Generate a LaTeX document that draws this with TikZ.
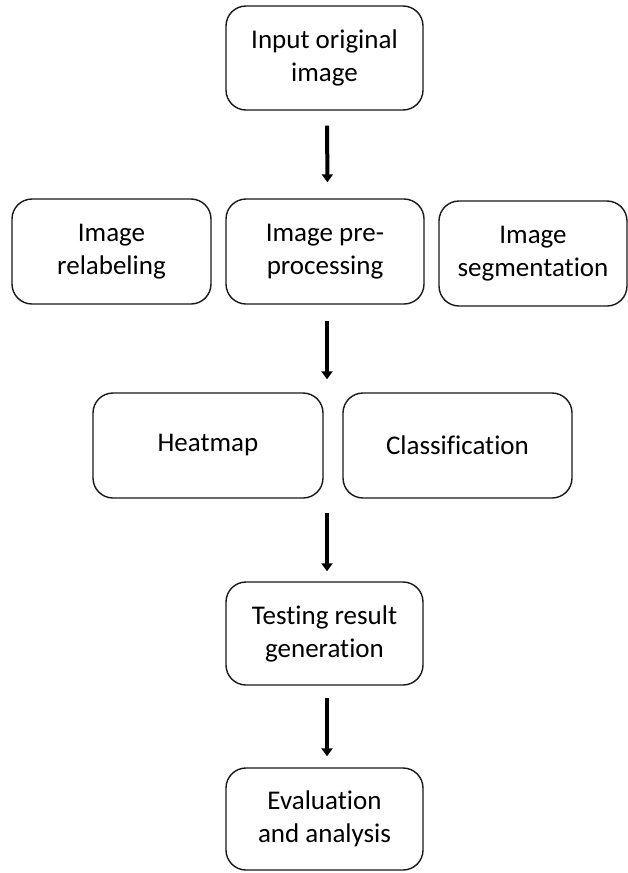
\documentclass[tikz,border=0pt]{standalone}
\usepackage{fontspec}
\setmainfont[Ligatures={NoCommon,NoRequired,NoContextual}]{Carlito}
\usetikzlibrary{arrows.meta}
\begin{document}
\begin{tikzpicture}[x=1pt,y=-1pt,
  box/.style={draw=black!90, line width=1.4pt, rounded corners=20pt, align=center,
    font=\fontsize{27}{33}\selectfont, inner sep=0pt},
  arr/.style={line width=4pt, -{Triangle[width=11pt,length=8pt]}}]
\useasboundingbox (0,0) rectangle (628,873);
\node[box, minimum width=197pt, minimum height=104pt] (in) at (324.5,58) {Input original\\image};
\node[box, minimum width=199pt, minimum height=105pt] (rel) at (111.5,251.5) {Image\\relabeling};
\node[box, minimum width=198pt, minimum height=105pt] (pre) at (325,251.5) {Image pre-\\processing};
\node[box, minimum width=188pt, minimum height=105pt] (seg) at (533,253.5) {Image\\segmentation};
\node[box, minimum width=230pt, minimum height=105pt] (hm) at (208,445.5) {Heatmap};
\node[box, minimum width=229pt, minimum height=105pt] (cl) at (457.5,445.5) {Classification};
\node[box, minimum width=197pt, minimum height=103pt] (te) at (324.5,633.5) {Testing result\\generation};
\node[box, minimum width=197pt, minimum height=102pt] (ev) at (324.5,819) {Evaluation\\and analysis};
\draw[arr, shorten <=15pt, shorten >=16pt] ([xshift=2.5pt]in.south) -- ([xshift=2.5pt]pre.north);
\draw[arr, shorten <=16pt, shorten >=13pt] ([xshift=2pt]pre.south) -- ([xshift=2pt]pre.south |- hm.north);
\draw[arr, shorten <=14pt, shorten >=10pt] ([xshift=2.5pt]te.north |- hm.south) -- ([xshift=2.5pt]te.north);
\draw[arr, shorten <=12pt, shorten >=11pt] ([xshift=2.5pt]te.south) -- ([xshift=2.5pt]ev.north);
\end{tikzpicture}
\end{document}
